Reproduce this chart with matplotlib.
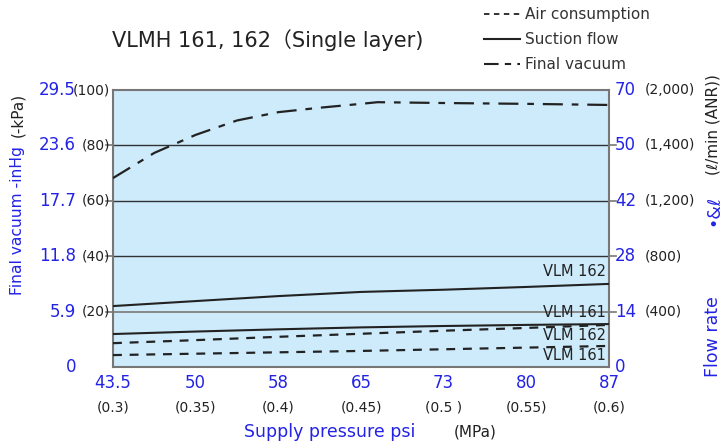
import matplotlib.pyplot as plt
from matplotlib.lines import Line2D
import matplotlib.transforms as mtransforms

# supply pressure (MPa) and psi labels
mpa = [0.3, 0.35, 0.4, 0.45, 0.5, 0.55, 0.6]
psi_labels = ["43.5", "50", "58", "65", "73", "80", "87"]
mpa_labels = ["(0.3)", "(0.35)", "(0.4)", "(0.45)", "(0.5 )", "(0.55)", "(0.6)"]

# left axis: kPa grid positions, inHg labels
kpa_ticks = [0, 20, 40, 60, 80, 100]
inhg_labels = ["0", "5.9", "11.8", "17.7", "23.6", "29.5"]
kpa_labels = ["", "(20)", "(40)", "(60)", "(80)", "(100)"]
# right axis labels at same positions
flow_labels = ["0", "14", "28", "42", "50", "70"]
flow_sub = ["", "(400)", "(800)", "(1,200)", "(1,400)", "(2,000)"]

# curves (in -kPa scale of the chart)
fv_mpa = [0.3, 0.325, 0.35, 0.375, 0.4, 0.425, 0.45, 0.46, 0.5, 0.55, 0.6]
final_vacuum = [68.2, 77.3, 83.8, 89.0, 92.0, 93.6, 95.0, 95.6, 95.3, 95.0, 94.6]
suction_162 = [22.0, 23.8, 25.6, 27.1, 27.9, 28.9, 30.0]
suction_161 = [11.9, 12.8, 13.6, 14.3, 14.8, 15.2, 15.5]
air_162 = [8.6, 9.7, 10.9, 12.0, 13.1, 14.1, 15.2]
air_161 = [4.3, 4.8, 5.3, 5.8, 6.4, 7.0, 7.6]

blue = "#2323e6"
dark = "#222222"

fig = plt.figure(figsize=(7.24, 4.48), dpi=100)
ax = fig.add_axes([113/724, 1-367/448, 496/724, 277/448])
ax.set_facecolor("#cdebfa")
ax.set_xlim(0.3, 0.6)
ax.set_ylim(0, 100)

for g in [20, 40, 60, 80]:
    ax.axhline(g, color="#333333" if g > 20 else "#888888", lw=1.0 if g > 20 else 1.4, zorder=1)

ax.plot(fv_mpa, final_vacuum, color=dark, lw=1.6, dashes=(9, 4, 3, 4), zorder=3)
ax.plot(mpa, suction_162, color=dark, lw=1.5, zorder=3)
ax.plot(mpa, suction_161, color=dark, lw=1.5, zorder=3)
ax.plot(mpa, air_162, color=dark, lw=1.6, dashes=(4, 3.5), zorder=3)
ax.plot(mpa, air_161, color=dark, lw=1.6, dashes=(4, 3.5), zorder=3)

for y, t in [(34.3, "VLM 162"), (19.5, "VLM 161"), (11.2, "VLM 162"), (4.0, "VLM 161")]:
    ax.text(0.598, y, t, ha="right", va="center", fontsize=10.5, color=dark, zorder=4)

for s in ax.spines.values():
    s.set_color("#777777")
    s.set_linewidth(1.5)
ax.set_xticks([])
ax.set_yticks([])

# side tick labels
tl = mtransforms.blended_transform_factory(fig.transFigure, ax.transData)
for i, k in enumerate(kpa_ticks):
    ax.text(76/724, k, inhg_labels[i], transform=tl, ha="right", va="center", fontsize=12, color=blue)
    if kpa_labels[i]:
        ax.text(110/724, k, kpa_labels[i], transform=tl, ha="right", va="center", fontsize=10, color=dark)
    ax.text(615/724, k, flow_labels[i], transform=tl, ha="left", va="center", fontsize=12, color=blue)
    if flow_sub[i]:
        ax.text(645/724, k, flow_sub[i], transform=tl, ha="left", va="center", fontsize=10, color=dark)
    if 0 < k < 100:
        ax.plot([0.3 - 0.004, 0.3], [k, k], color="#777777", lw=1.2, clip_on=False)
        ax.plot([0.6, 0.6 + 0.004], [k, k], color="#777777", lw=1.2, clip_on=False)

# bottom tick labels
tb = mtransforms.blended_transform_factory(ax.transData, fig.transFigure)
for x, p, m in zip(mpa, psi_labels, mpa_labels):
    ax.text(x, 1-383/448, p, transform=tb, ha="center", va="center", fontsize=12, color=blue)
    ax.text(x, 1-407/448, m, transform=tb, ha="center", va="center", fontsize=10, color=dark)

fig.text(330/724, 1-432/448, "Supply pressure psi", ha="center", va="center", fontsize=12.5, color=blue)
fig.text(475/724, 1-432/448, "(MPa)", ha="center", va="center", fontsize=11, color=dark)

# axis titles
fig.text(18/724, 1-221/448, "Final vacuum -inHg", rotation=90, ha="center", va="center", fontsize=11.2, color=blue)
fig.text(18/724, 1-115/448, "(-kPa)", rotation=90, ha="center", va="center", fontsize=11, color=dark)
fig.text(713/724, 1-337/448, "Flow rate", rotation=90, ha="center", va="center", fontsize=12.5, color=blue)
fig.text(713/724, 1-210/448, "•&ℓ", rotation=90, ha="center", va="center", fontsize=12.5, color=blue)
fig.text(713/724, 1-125/448, "(ℓ/min (ANR))", rotation=90, ha="center", va="center", fontsize=11, color=dark)

# title
fig.text(112/724, 1-40/448, "VLMH 161, 162（Single layer)", ha="left", va="center", fontsize=15,
         color=dark, family=["DejaVu Sans", "Noto Sans CJK JP"])

handles = [Line2D([], [], color=dark, lw=1.3, dashes=(3, 2.5)),
           Line2D([], [], color=dark, lw=1.5),
           Line2D([], [], color=dark, lw=1.5, dashes=(7, 3, 3, 3))]
fig.legend(handles, ["Air consumption", "Suction flow", "Final vacuum"], loc="upper left",
           bbox_to_anchor=(470/724, 1.015), frameon=False, fontsize=11, handlelength=2.4,
           handletextpad=0.3, labelspacing=0.65, labelcolor="#333333")

fig.savefig("out.png", dpi=100)
